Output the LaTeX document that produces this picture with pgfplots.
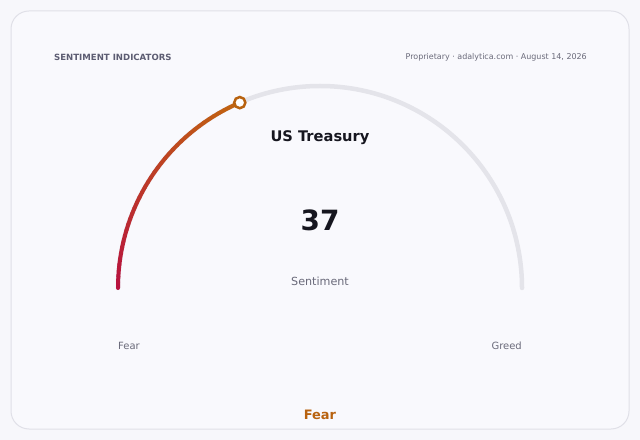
\documentclass[border=0pt]{standalone}
\usepackage{pgfplots}
\pgfplotsset{compat=1.18}
\usepackage{pgfplotstable}
\usepackage{fontspec}
\setmainfont{DejaVu Sans}

\definecolor{pagebg}{HTML}{F7F7FB}
\definecolor{cardbg}{HTML}{F9F9FD}
\definecolor{cardline}{HTML}{E0E0E8}
\definecolor{track}{HTML}{E4E4EA}
\definecolor{lowcol}{HTML}{B8123F}
\definecolor{highcol}{HTML}{C2660F}
\definecolor{headcol}{HTML}{5C5C72}
\definecolor{subcol}{HTML}{6A6A7A}
\definecolor{titlecol}{HTML}{16161F}
\definecolor{zonecol}{HTML}{B8620F}

% gauge reading (0 = fear, 100 = greed)
\pgfplotstableread{
id value
0  37
}\gaugedata

\pgfplotsset{gaugeframe/.style={
    scale only axis,
    width=640bp, height=440bp,
    xmin=0, xmax=640, ymin=0, ymax=440,
    y dir=reverse,
    hide axis,
    clip=false,
}}

\begin{document}
\begin{tikzpicture}
\pgfplotstablegetelem{0}{value}\of\gaugedata
\let\gaugevalue\pgfplotsretval
\pgfmathsetmacro{\endangle}{180-1.8*\gaugevalue}
\begin{axis}[gaugeframe]
% background and card
\fill[pagebg] (axis cs:0,0) rectangle (axis cs:640,440);
\draw[cardline, fill=cardbg, line width=1bp, rounded corners=18bp]
    (axis cs:11,11) rectangle (axis cs:629,429);
\coordinate (C) at (axis cs:320,288);
\coordinate (TL) at (axis cs:0,0);
\coordinate (BR) at (axis cs:640,440);

% header
\node[anchor=west, inner sep=0pt, text=headcol, font=\fontsize{8.6}{10}\selectfont\bfseries]
    at (axis cs:54,57) {SENTIMENT INDICATORS};
\node[anchor=east, inner sep=0pt, text=subcol, font=\fontsize{8.0}{10}\selectfont]
    at (axis cs:587,57) {Proprietary \textperiodcentered{} adalytica.com \textperiodcentered{} August 14, 2026};

% gauge track
\draw[track, line width=4.5bp, line cap=round]
    (axis cs:118,288) arc[start angle=180, end angle=0, radius=202bp];

% texts
\node[text=titlecol, font=\fontsize{14.7}{17}\selectfont\bfseries]
    at (axis cs:320,137.5) {US Treasury};
\node[text=titlecol, font=\fontsize{28}{30}\selectfont\bfseries]
    at (axis cs:320,220.5) {37};
\node[text=subcol, font=\fontsize{11.2}{13}\selectfont]
    at (axis cs:320,281) {Sentiment};
\node[anchor=west, inner sep=0pt, text=subcol, font=\fontsize{10}{12}\selectfont]
    at (axis cs:118,345.5) {Fear};
\node[anchor=east, inner sep=0pt, text=subcol, font=\fontsize{10}{12}\selectfont]
    at (axis cs:522,345.5) {Greed};
\node[text=zonecol, font=\fontsize{13}{15}\selectfont\bfseries]
    at (axis cs:320,414.5) {Fear};
\end{axis}

% value arc, shaded from fear red to amber
\foreach \i in {0,...,39}{
  \pgfmathsetmacro{\aa}{180-(180-\endangle)*\i/40}
  \pgfmathsetmacro{\ab}{180-(180-\endangle)*(\i+1)/40}
  \pgfmathtruncatemacro{\mixp}{100-2.5*\i}
  \draw[color=lowcol!\mixp!highcol, line width=4bp, line cap=round]
      (C) ++(\aa:202bp) arc[start angle=\aa, end angle=\ab, radius=202bp];
}

\begin{axis}[gaugeframe]
% needle marker
\addplot[only marks, mark=*, mark size=5.6bp,
    mark options={draw=zonecol, fill=white, line width=2.5bp}]
    table[x expr={320+202*cos(180-1.8*\thisrow{value})},
          y expr={288-202*sin(180-1.8*\thisrow{value})}] {\gaugedata};
\end{axis}
\pgfresetboundingbox
\path[use as bounding box] (TL) rectangle (BR);
\end{tikzpicture}
\end{document}
